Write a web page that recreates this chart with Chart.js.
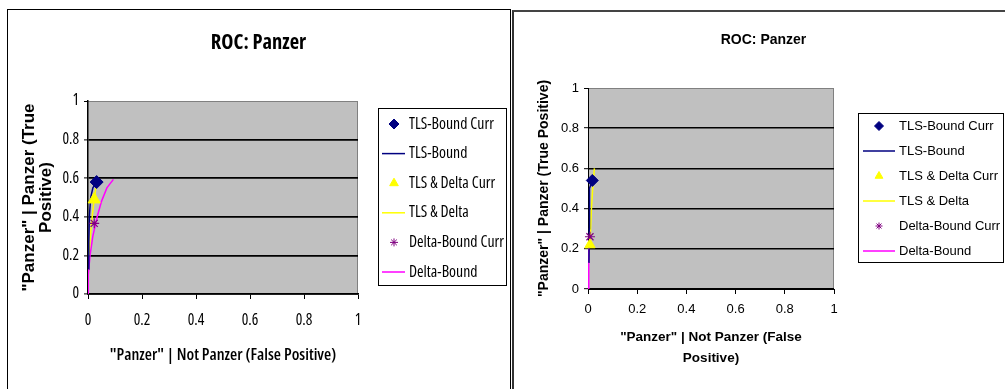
<!DOCTYPE html>
<html><head><meta charset="utf-8">
<script src="https://cdn.jsdelivr.net/npm/chart.js@4.4.1/dist/chart.umd.min.js"></script>
<style>
html,body{margin:0;padding:0;background:#fff;width:1005px;height:389px;overflow:hidden;position:relative}
#pL{position:absolute;left:7px;top:9px;width:502px;height:420px;border:1px solid #000;border-bottom:none}
#pR{position:absolute;left:512px;top:10px;width:500px;height:420px;border-left:2px solid #333;border-top:2px solid #444}
#cL{position:absolute;left:7px;top:0;z-index:2}
#cR{position:absolute;left:514px;top:0;z-index:2}
</style></head>
<body>
<div id="pL"></div><div id="pR"></div>
<canvas id="cL" width="503" height="389"></canvas>
<canvas id="cR" width="491" height="389"></canvas>
<script>
// ---------- data ----------
const chartTitle = 'ROC: Panzer';
const seriesNames = ['TLS-Bound Curr','TLS-Bound','TLS & Delta Curr','TLS & Delta','Delta-Bound Curr','Delta-Bound'];
const xTickLabels = ['0','0.2','0.4','0.6','0.8','1'];
const yTickLabels = ['0','0.2','0.4','0.6','0.8','1'];

// left chart
const L_tlsBoundCurrX = [0.032];
const L_tlsBoundCurrY = [0.58];
const L_tlsBoundX = [0.002, 0.003, 0.005, 0.01, 0.018, 0.032];
const L_tlsBoundY = [0.13, 0.27, 0.4, 0.5, 0.55, 0.58];
const L_tlsDeltaCurrX = [0.023];
const L_tlsDeltaCurrY = [0.49];
const L_tlsDeltaX = [0.003, 0.01, 0.017, 0.023, 0.03];
const L_tlsDeltaY = [0.2, 0.32, 0.42, 0.49, 0.56];
const L_deltaBoundCurrX = [0.023];
const L_deltaBoundCurrY = [0.366];
const L_deltaBoundX = [0, 0.001, 0.0075, 0.018, 0.034, 0.05, 0.07, 0.094];
const L_deltaBoundY = [0, 0.1, 0.2, 0.3, 0.4, 0.48, 0.55, 0.594];

// right chart
const R_tlsBoundCurrX = [0.0175];
const R_tlsBoundCurrY = [0.54];
const R_tlsBoundX = [0.004, 0.005, 0.006, 0.0175];
const R_tlsBoundY = [0.13, 0.3, 0.5, 0.54];
const R_tlsDeltaCurrX = [0.008];
const R_tlsDeltaCurrY = [0.22];
const R_tlsDeltaX = [0.008, 0.014, 0.02, 0.026];
const R_tlsDeltaY = [0.22, 0.4, 0.52, 0.6];
const R_deltaBoundCurrX = [0.008];
const R_deltaBoundCurrY = [0.26];
const R_deltaBoundX = [0.001, 0.002, 0.004, 0.008];
const R_deltaBoundY = [0, 0.12, 0.2, 0.26];

// ---------- helpers ----------
const NARROW = "'Open Sans',Roboto,'Liberation Sans',sans-serif";
const ARIAL = "'Liberation Sans',Arial,sans-serif";
const zip = (xs, ys) => xs.map((x, i) => ({x, y: ys[i]}));

const NAVY = '#000080', YEL = '#FFFF00', PURP = '#800080', MAG = '#FF00FF';

function buildDatasets(s, mk) {
  return [
    {label: seriesNames[0], data: zip(s[0][0], s[0][1]), showLine: false, pointStyle: 'rectRot', pointRadius: mk.d,
     backgroundColor: NAVY, borderColor: NAVY, pointBorderWidth: 1, order: 0, clip: false},
    {label: seriesNames[1], data: zip(s[1][0], s[1][1]), showLine: true, pointRadius: 0, borderColor: NAVY, borderWidth: 1.5, order: 1},
    {label: seriesNames[2], data: zip(s[2][0], s[2][1]), showLine: false, pointStyle: 'triangle', pointRadius: mk.t,
     backgroundColor: YEL, borderColor: YEL, pointBorderWidth: 1, order: 0, clip: false},
    {label: seriesNames[3], data: zip(s[3][0], s[3][1]), showLine: true, pointRadius: 0, borderColor: YEL, borderWidth: 1.5, order: 1},
    {label: seriesNames[4], data: zip(s[4][0], s[4][1]), showLine: false, pointStyle: 'star', pointRadius: mk.s,
     backgroundColor: PURP, borderColor: PURP, pointBorderWidth: 1.2, order: 0, clip: false},
    {label: seriesNames[5], data: zip(s[5][0], s[5][1]), showLine: true, pointRadius: 0, borderColor: MAG, borderWidth: 1.5, order: 1}
  ];
}

const plotBg = {
  id: 'plotBg',
  beforeDraw(chart) {
    const {ctx, chartArea: a} = chart;
    ctx.save();
    ctx.fillStyle = '#C0C0C0';
    ctx.fillRect(a.left, a.top, a.right - a.left, a.bottom - a.top);
    ctx.strokeStyle = '#808080';
    ctx.lineWidth = 1;
    ctx.beginPath();
    ctx.moveTo(a.left, a.top + 0.5);
    ctx.lineTo(a.right - 0.5, a.top + 0.5);
    ctx.lineTo(a.right - 0.5, a.bottom);
    ctx.stroke();
    ctx.restore();
  }
};

const excelLegend = {
  id: 'excelLegend',
  afterDraw(chart, args, o) {
    const ctx = chart.ctx;
    ctx.save();
    ctx.fillStyle = '#fff';
    ctx.fillRect(o.x, o.y, o.w, o.h);
    ctx.strokeStyle = '#000';
    ctx.lineWidth = 1;
    ctx.strokeRect(o.x + 0.5, o.y + 0.5, o.w - 1, o.h - 1);
    ctx.font = o.font;
    ctx.textBaseline = 'middle';
    ctx.textAlign = 'left';
    chart.data.datasets.forEach((ds, i) => {
      const y = o.rowY0 + i * o.rowStep;
      if (ds.showLine) {
        ctx.strokeStyle = ds.borderColor;
        ctx.lineWidth = 1.5;
        ctx.beginPath();
        ctx.moveTo(o.lineX0, y);
        ctx.lineTo(o.lineX1, y);
        ctx.stroke();
      } else {
        ctx.fillStyle = ds.backgroundColor;
        ctx.strokeStyle = ds.borderColor;
        ctx.lineWidth = 1;
        Chart.helpers.drawPoint(ctx, {pointStyle: ds.pointStyle, radius: o.markR[ds.pointStyle], borderWidth: 1, rotation: 0}, o.symX, y);
      }
      ctx.fillStyle = '#000';
      ctx.fillText(ds.label, o.textX, y);
    });
    ctx.restore();
  }
};

function makeChart(canvas, p) {
  return new Chart(canvas, {
    type: 'scatter',
    data: {datasets: p.datasets},
    options: {
      responsive: false,
      animation: false,
      events: [],
      layout: {padding: {left: p.padLeft, right: 0, top: 0, bottom: 0}},
      plugins: {
        legend: {display: false},
        tooltip: {enabled: false},
        title: {display: true, text: chartTitle, color: '#000',
                font: {family: p.titleFamily, size: p.titleSize, weight: p.titleWeight, lineHeight: 1.2},
                padding: {top: p.titlePadTop, bottom: p.titlePadBottom}},
        excelLegend: p.legend
      },
      scales: {
        x: {
          type: 'linear', position: 'bottom', min: 0, max: 1,
          ticks: {stepSize: 0.2, padding: p.xTickPad, color: '#000',
                  font: {family: p.tickFamily, size: p.tickSize, weight: p.tickWeight},
                  maxRotation: 0, callback: (v, i) => xTickLabels[i]},
          grid: {drawOnChartArea: false, drawTicks: true, tickLength: 5, tickColor: '#000', tickWidth: 1},
          border: {display: true, color: '#000', width: p.axisWidth},
          title: {display: true, text: p.xTitle, color: '#000',
                  font: {family: p.xTitleFamily, size: p.xTitleSize, weight: p.xTitleWeight, lineHeight: p.xTitleLH},
                  padding: {top: 0, bottom: p.xTitlePadBottom}},
          afterFit: s => { s.height = p.xHeight; s.paddingLeft = 0; s.paddingRight = 0; }
        },
        y: {
          type: 'linear', position: 'left', min: 0, max: 1,
          ticks: {stepSize: 0.2, padding: 5, color: '#000',
                  font: {family: p.tickFamily, size: p.tickSize, weight: p.tickWeight},
                  callback: (v, i) => yTickLabels[i]},
          grid: {drawOnChartArea: true, drawTicks: true, tickLength: 4, tickColor: '#000', tickWidth: 1,
                 lineWidth: c => (c.tick && c.tick.value === 1) ? 1 : p.gridWidth,
                 color: c => (c.tick && c.tick.value === 1) ? '#808080' : '#000'},
          border: {display: true, color: '#000', width: p.axisWidth},
          title: {display: true, text: p.yTitle, color: '#000',
                  font: {family: ARIAL, size: p.yTitleSize, weight: 'bold', lineHeight: p.yTitleLH},
                  padding: {top: p.yTitlePadTop, bottom: 0}},
          afterFit: s => { s.width = p.yWidth; s.paddingTop = 0; s.paddingBottom = 0; }
        },
        yPad: {
          type: 'linear', position: 'right', display: true,
          ticks: {display: false}, grid: {display: false}, border: {display: false},
          afterFit: s => { s.width = p.rightWidth; s.paddingTop = 0; s.paddingBottom = 0; }
        }
      }
    },
    plugins: [plotBg, excelLegend]
  });
}

makeChart(document.getElementById('cL'), {
  datasets: buildDatasets([
    [L_tlsBoundCurrX, L_tlsBoundCurrY], [L_tlsBoundX, L_tlsBoundY],
    [L_tlsDeltaCurrX, L_tlsDeltaCurrY], [L_tlsDeltaX, L_tlsDeltaY],
    [L_deltaBoundCurrX, L_deltaBoundCurrY], [L_deltaBoundX, L_deltaBoundY]
  ], {d: 6.5, t: 7, s: 5}),
  padLeft: 0, gridWidth: 1.8, axisWidth: 1.5,
  titleFamily: NARROW, titleSize: 20.5, titleWeight: 'condensed bold', titlePadTop: 31, titlePadBottom: 45.4,
  tickFamily: NARROW, tickSize: 15.5, tickWeight: 'condensed', xTickPad: 12,
  xTitle: '"Panzer" | Not Panzer (False Positive)', xTitleFamily: NARROW, xTitleSize: 16.5, xTitleWeight: 'condensed 600', xTitleLH: 1.2, xTitlePadBottom: 24,
  xHeight: 95,
  yTitle: ['"Panzer" | Panzer (True', 'Positive)'], yTitleSize: 17, yTitleLH: 1.0, yTitlePadTop: 14,
  yWidth: 81, rightWidth: 152,
  legend: {x: 371, y: 108, w: 129, h: 178, rowY0: 124, rowStep: 29.6, symX: 387, lineX0: 375, lineX1: 398, textX: 402,
           font: "condensed 15.8px " + NARROW, markR: {rectRot: 5, triangle: 5, star: 4}}
});

makeChart(document.getElementById('cR'), {
  datasets: buildDatasets([
    [R_tlsBoundCurrX, R_tlsBoundCurrY], [R_tlsBoundX, R_tlsBoundY],
    [R_tlsDeltaCurrX, R_tlsDeltaCurrY], [R_tlsDeltaX, R_tlsDeltaY],
    [R_deltaBoundCurrX, R_deltaBoundCurrY], [R_deltaBoundX, R_deltaBoundY]
  ], {d: 6, t: 6, s: 5}),
  padLeft: 8, gridWidth: 1.4, axisWidth: 1,
  titleFamily: ARIAL, titleSize: 14, titleWeight: 'bold', titlePadTop: 31.6, titlePadBottom: 39.6,
  tickFamily: ARIAL, tickSize: 13, tickWeight: 'normal', xTickPad: 8,
  xTitle: ['"Panzer" | Not Panzer (False', 'Positive)'], xTitleFamily: ARIAL, xTitleSize: 13.5, xTitleWeight: 'bold', xTitleLH: 1.5, xTitlePadBottom: 21,
  xHeight: 100,
  yTitle: '"Panzer" | Panzer (True Positive)', yTitleSize: 14, yTitleLH: 1.2, yTitlePadTop: 13.6,
  yWidth: 66, rightWidth: 171,
  legend: {x: 344, y: 113, w: 146, h: 150, rowY0: 126, rowStep: 25, symX: 365, lineX0: 349, lineX1: 381, textX: 385,
           font: "13px " + ARIAL, markR: {rectRot: 4.5, triangle: 4.5, star: 3.5}}
});
</script>
</body></html>
